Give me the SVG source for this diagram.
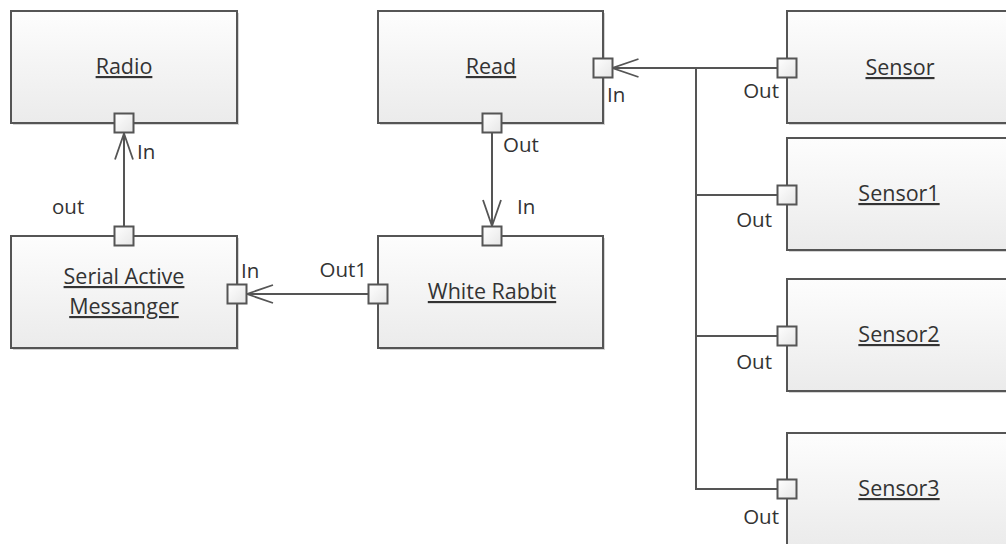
<svg xmlns="http://www.w3.org/2000/svg" width="1006" height="544" viewBox="0 0 1006 544">
<defs>
<linearGradient id="gBox" x1="0" y1="0" x2="0" y2="1">
<stop offset="0" stop-color="#fdfdfd"/>
<stop offset="1" stop-color="#ebebeb"/>
</linearGradient>
<linearGradient id="gPort" x1="0" y1="0" x2="1" y2="1">
<stop offset="0" stop-color="#ffffff"/>
<stop offset="1" stop-color="#e6e6e6"/>
</linearGradient>
<marker id="arr" viewBox="-28 -11 30 22" refX="0" refY="0" markerWidth="30" markerHeight="22" markerUnits="userSpaceOnUse" orient="auto">
<path d="M-26,-9 L0,0 L-26,9" fill="none" stroke="#555" stroke-width="1.8"/>
</marker>
</defs>
<style>
.box{fill:url(#gBox);stroke:#555;stroke-width:2}
.sh{fill:#d4d4d4}
.port{fill:url(#gPort);stroke:#555;stroke-width:2}
.name{font-family:"Open Sans","Noto Sans",sans-serif;font-size:21.5px;fill:#333;text-anchor:middle;text-decoration:underline}
.lbl{font-family:"Open Sans","Noto Sans",sans-serif;font-size:20.5px;fill:#333}
.end{text-anchor:end}
.con{fill:none;stroke:#555;stroke-width:2}
</style>
<rect width="1006" height="544" fill="#ffffff"/>

<g id="connectors">
<path class="con" d="M124,226.5 L124,133.5" marker-end="url(#arr)"/>
<path class="con" d="M492,132.5 L492,226" marker-end="url(#arr)"/>
<path class="con" d="M368.5,294 L247,294" marker-end="url(#arr)"/>
<path class="con" d="M777.5,68 L696,68 L612.5,68" marker-end="url(#arr)"/>
<path class="con" d="M696,68 L696,489 L777.5,489"/>
<path class="con" d="M696,195 L777.5,195"/>
<path class="con" d="M696,336 L777.5,336"/>
</g>

<g id="radio">
<rect class="sh" x="13" y="13" width="226" height="112"/>
<rect class="box" x="11" y="11" width="226" height="112"/>
<text class="name" x="124" y="74">Radio</text>
<rect class="port" x="114.5" y="113.5" width="19" height="19"/>
<text class="lbl" x="137" y="159">In</text>
</g>

<g id="serial-active-messanger">
<rect class="sh" x="13" y="238" width="226" height="112"/>
<rect class="box" x="11" y="236" width="226" height="112"/>
<text class="name" x="124" y="284">Serial Active</text>
<text class="name" x="124" y="314">Messanger</text>
<rect class="port" x="114.5" y="226.5" width="19" height="19"/>
<rect class="port" x="227.5" y="284.5" width="19" height="19"/>
<text class="lbl" x="52" y="214">out</text>
<text class="lbl" x="241" y="278">In</text>
</g>

<g id="read">
<rect class="sh" x="380" y="13" width="225" height="112"/>
<rect class="box" x="378" y="11" width="225" height="112"/>
<text class="name" x="491" y="74">Read</text>
<rect class="port" x="482.5" y="113.5" width="19" height="19"/>
<rect class="port" x="593.5" y="58.5" width="19" height="19"/>
<text class="lbl" x="607" y="102">In</text>
<text class="lbl" x="503" y="152">Out</text>
</g>

<g id="white-rabbit">
<rect class="sh" x="380" y="238" width="225" height="112"/>
<rect class="box" x="378" y="236" width="225" height="112"/>
<text class="name" x="492" y="299">White Rabbit</text>
<rect class="port" x="482.5" y="226.5" width="19" height="19"/>
<rect class="port" x="368.5" y="284.5" width="19" height="19"/>
<text class="lbl" x="517" y="214">In</text>
<text class="lbl end" x="367" y="277">Out1</text>
</g>

<g id="sensor">
<rect class="sh" x="789" y="13" width="226" height="112"/>
<rect class="box" x="787" y="11" width="226" height="112"/>
<text class="name" x="900" y="75">Sensor</text>
<rect class="port" x="777.5" y="58.5" width="19" height="19"/>
<text class="lbl end" x="779" y="98">Out</text>
</g>

<g id="sensor1">
<rect class="sh" x="789" y="140" width="226" height="112"/>
<rect class="box" x="787" y="138" width="226" height="112"/>
<text class="name" x="899" y="201">Sensor1</text>
<rect class="port" x="777.5" y="185.5" width="19" height="19"/>
<text class="lbl end" x="772" y="227">Out</text>
</g>

<g id="sensor2">
<rect class="sh" x="789" y="281" width="226" height="112"/>
<rect class="box" x="787" y="279" width="226" height="112"/>
<text class="name" x="899" y="342">Sensor2</text>
<rect class="port" x="777.5" y="326.5" width="19" height="19"/>
<text class="lbl end" x="772" y="369">Out</text>
</g>

<g id="sensor3">
<rect class="sh" x="789" y="435" width="226" height="112"/>
<rect class="box" x="787" y="433" width="226" height="113"/>
<text class="name" x="899" y="496">Sensor3</text>
<rect class="port" x="777.5" y="479.5" width="19" height="19"/>
<text class="lbl end" x="779" y="524">Out</text>
</g>
</svg>
